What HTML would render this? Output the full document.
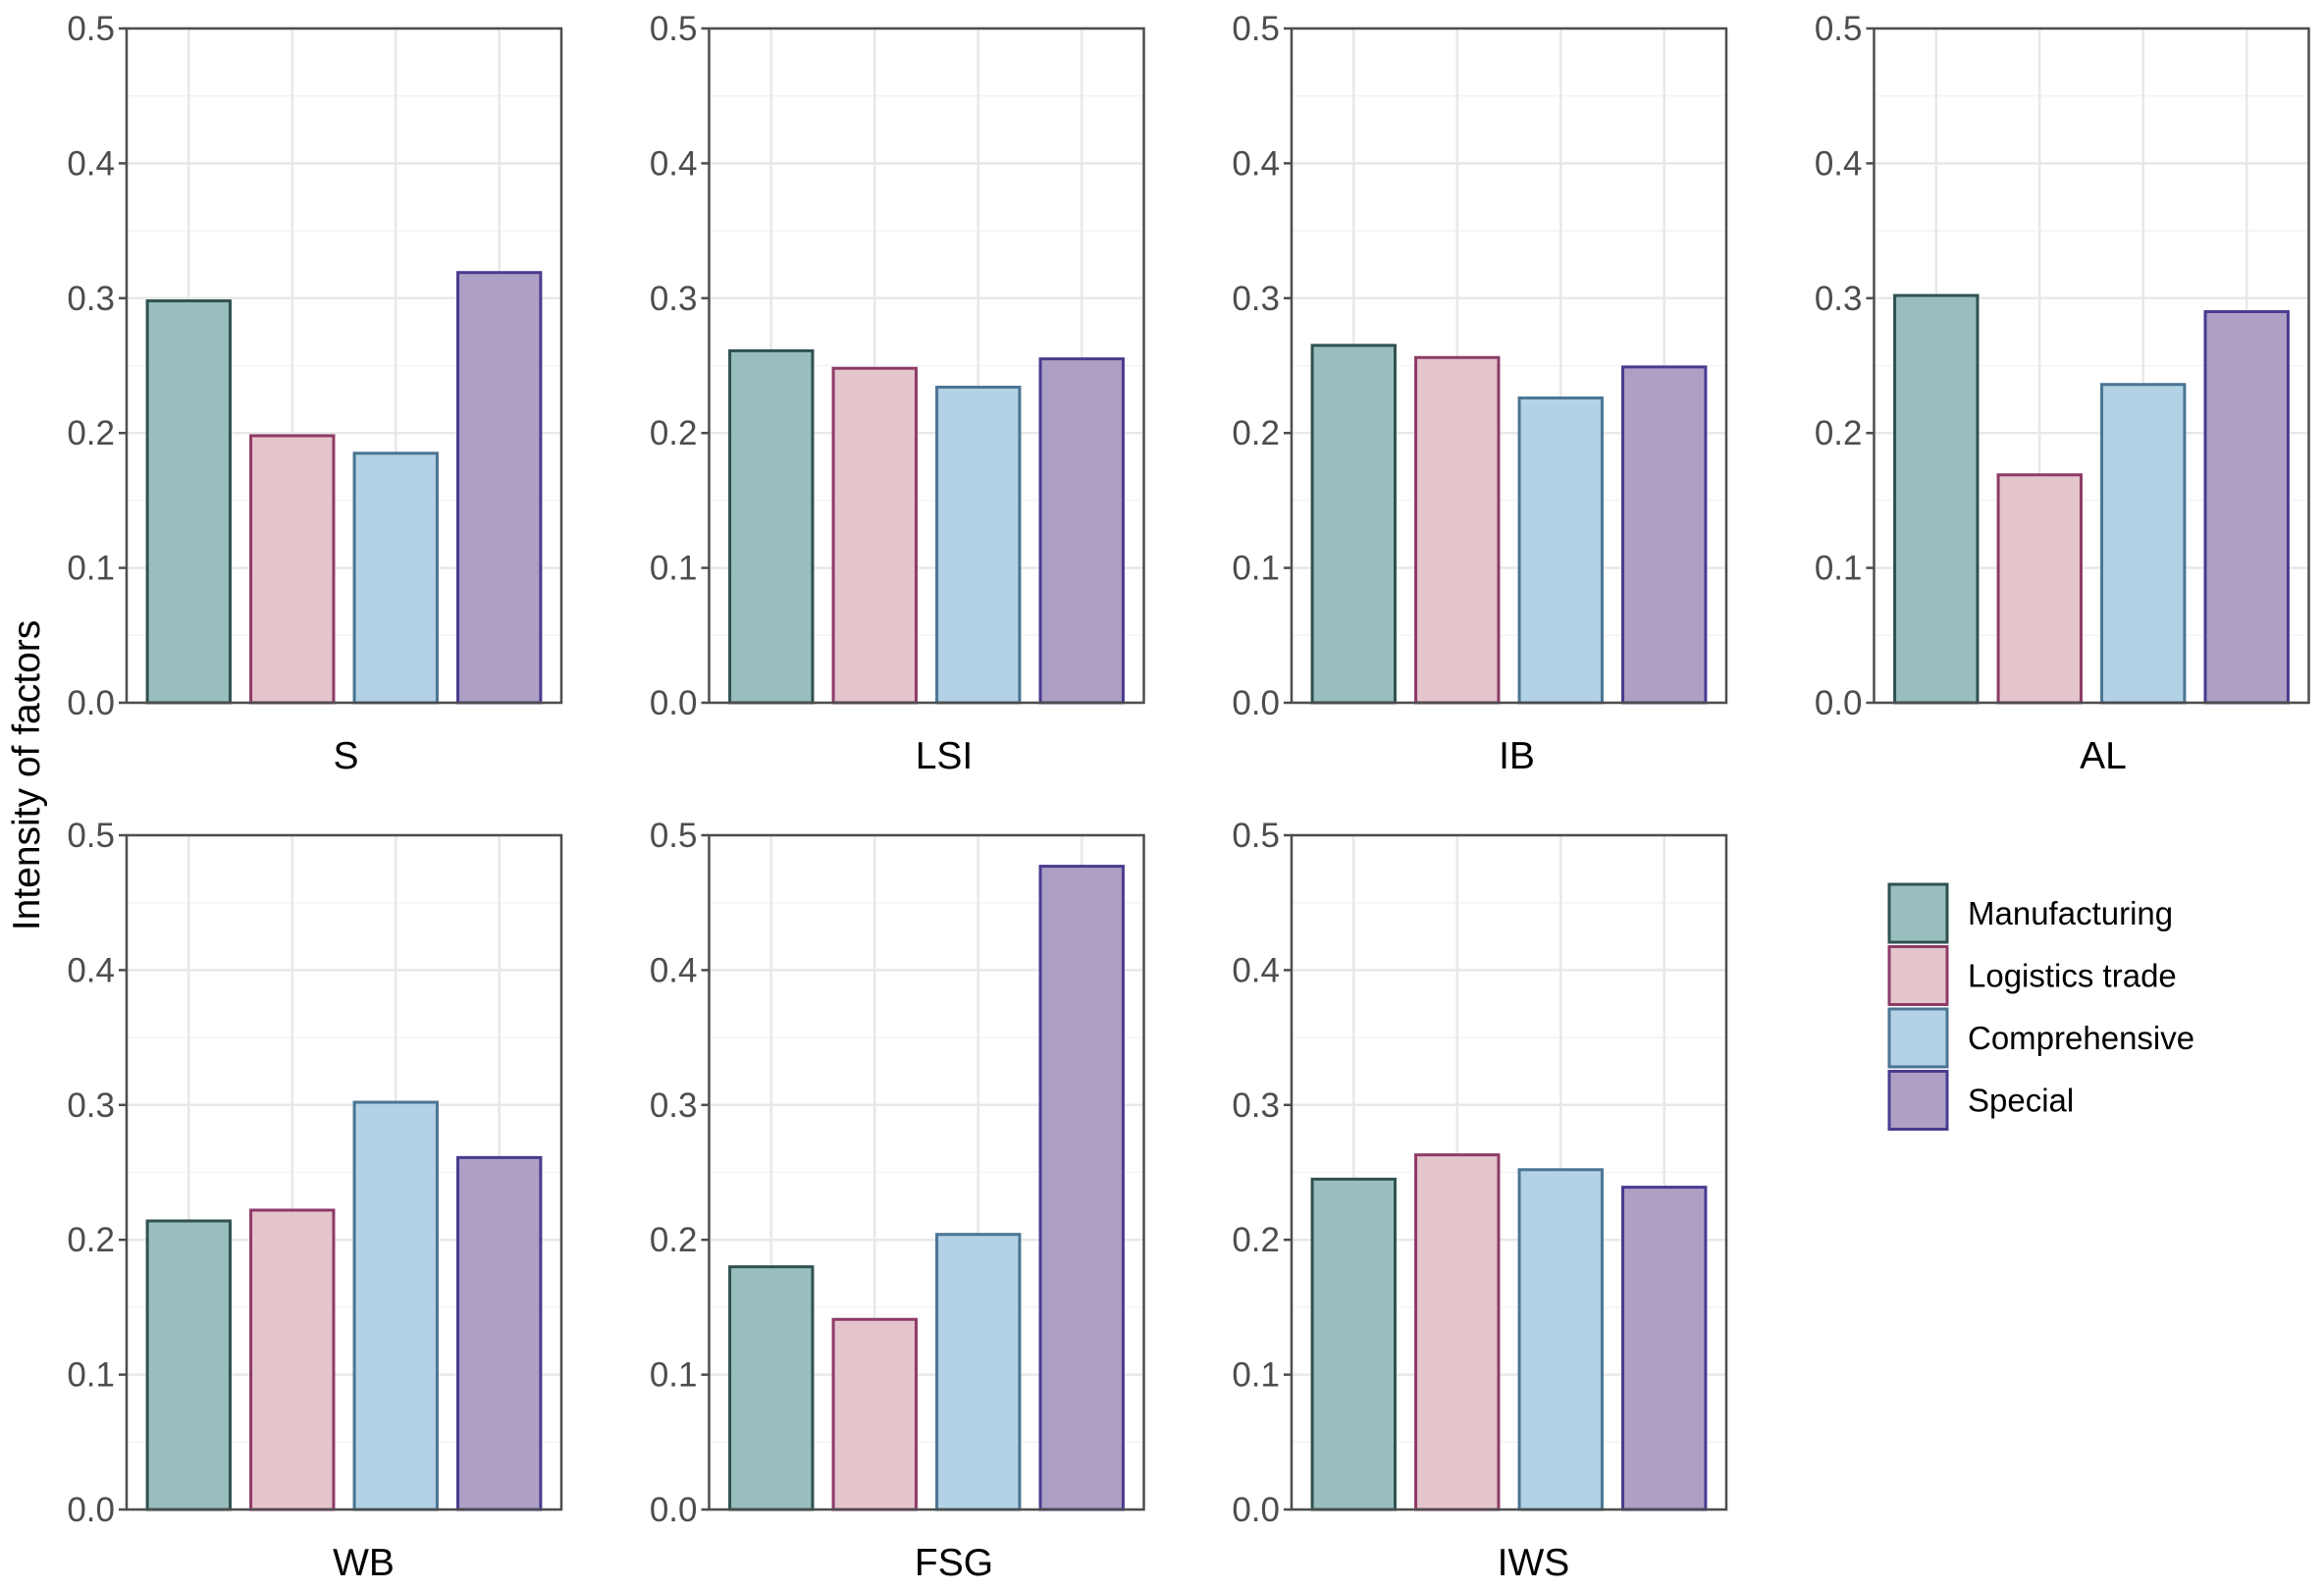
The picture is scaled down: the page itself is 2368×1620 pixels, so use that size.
<!DOCTYPE html>
<html><head><meta charset="utf-8">
<style>
html,body{margin:0;padding:0;background:#fff;}
svg{display:block;font-family:"Liberation Sans",Arial,sans-serif;}
</style></head>
<body>
<svg id="chart" width="2368" height="1620" viewBox="0 0 2368 1620" xmlns="http://www.w3.org/2000/svg">
<text x="0" y="0" transform="translate(40,790) rotate(-90)" text-anchor="middle" font-size="39" fill="#000">Intensity of factors</text>
<g id="panels"></g>
<g id="legend"></g>
</svg>
<script>
const panels = ["S","LSI","IB","AL","WB","FSG","IWS"];
const seriesNames = ["Manufacturing","Logistics trade","Comprehensive","Special"];
const manufacturing = [0.298,0.261,0.265,0.302,0.214,0.180,0.245];
const logistics     = [0.198,0.248,0.256,0.169,0.222,0.141,0.263];
const comprehensive = [0.185,0.234,0.226,0.236,0.302,0.204,0.252];
const special       = [0.319,0.255,0.249,0.290,0.261,0.477,0.239];
const yTicks = [0.0,0.1,0.2,0.3,0.4,0.5];
const yTickLabels = ["0.0","0.1","0.2","0.3","0.4","0.5"];

const series = [manufacturing, logistics, comprehensive, special];
const fills = ["#98bfbe","#e4c5cb","#b3d2e5","#ada0c4"];
const strokes = ["#2f5250","#8e3b67","#4b7593","#4a3b8f"];
const labelShift = [2, 18, 8, 12, 20, 28, 25];
const NS = "http://www.w3.org/2000/svg";
const gP = document.getElementById('panels');
const PW = 443, PH = 687;
const colX = [129, 722.5, 1316, 1909.5];
const rowY = [29, 851];
const yMax = 0.5;

function mk(tag, attrs, parent){
  const e = document.createElementNS(NS, tag);
  for (const k in attrs) e.setAttribute(k, attrs[k]);
  parent.appendChild(e);
  return e;
}

panels.forEach((name, pi) => {
  const px = colX[pi % 4], py = rowY[Math.floor(pi / 4)];
  const yS = v => py + PH - (v / yMax) * PH;
  const xS = c => px + (c + 1 - 0.4) * (PW / 4.2);
  const g = mk('g', {}, gP);
  
  
  for (let v = 0.05; v < yMax; v += 0.1) {
    const l = mk('line', {x1:px, x2:px+PW, y1:yS(v), y2:yS(v), stroke:'#f3f3f3', 'stroke-width':1.5}, g);
    
    
  }
  yTicks.forEach(v => {
    const l = mk('line', {x1:px, x2:px+PW, y1:yS(v), y2:yS(v), stroke:'#e8e8e8', 'stroke-width':2.5}, g);
    
    
  });
  for (let c = 0; c < 4; c++) {
    const l = mk('line', {x1:xS(c), x2:xS(c), y1:py, y2:py+PH, stroke:'#e8e8e8', 'stroke-width':2.5}, g);
    
    
  }
  const bw = 0.8 * PW / 4.2;
  series.forEach((s, si) => {
    const v = s[pi];
    const r = mk('rect', {x:xS(si) - bw/2, y:yS(v), width:bw, height:yS(0) - yS(v),
      fill:fills[si], stroke:strokes[si], 'stroke-width':3}, g);
    
    
  });
  const b = mk('rect', {x:px, y:py, width:PW, height:PH, fill:'none', stroke:'#4d4d4d', 'stroke-width':2.5}, g);
  
  
  yTicks.forEach((v, ti) => {
    const t = mk('line', {x1:px - 8, x2:px, y1:yS(v), y2:yS(v), stroke:'#4d4d4d', 'stroke-width':2.5}, g);
    
    
    const tx = mk('text', {x:px - 12, y:yS(v) + 12, 'text-anchor':'end', 'font-size':35, fill:'#4d4d4d'}, g);
    tx.textContent = yTickLabels[ti];
    
    
  });
  const lab = mk('text', {x:px + PW/2 + labelShift[pi], y:py + PH + 67, 'text-anchor':'middle', 'font-size':39, fill:'#000'}, g);
  lab.textContent = name;
  
  
});

const gL = document.getElementById('legend');
seriesNames.forEach((n, i) => {
  const y = 901 + i * 63.5;
  const r = mk('rect', {x:1925, y:y, width:59, height:59, fill:fills[i], stroke:strokes[i], 'stroke-width':3}, gL);
  
  
  const t = mk('text', {x:2005, y:y + 41, 'font-size':33, fill:'#000'}, gL);
  t.textContent = n;
  
  
});
</script>
</body></html>
